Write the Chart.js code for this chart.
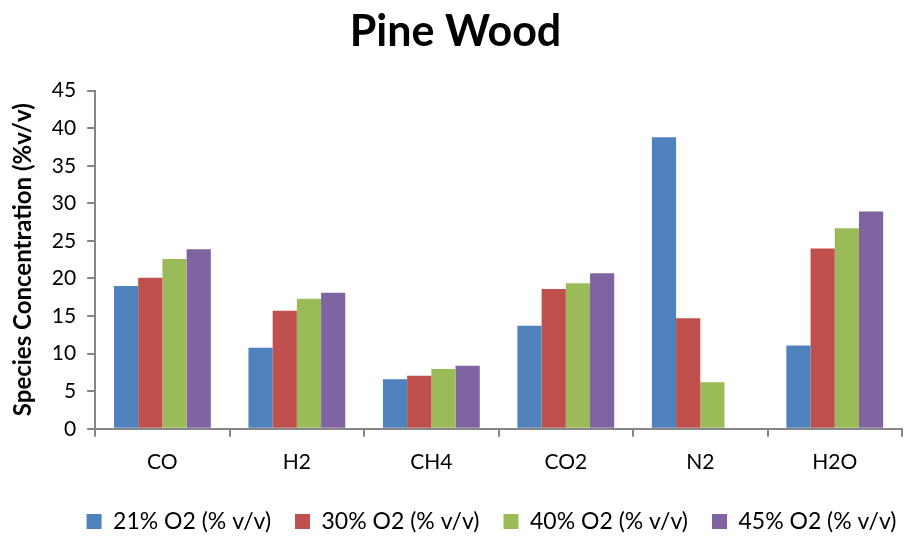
<!DOCTYPE html>
<html>
<head>
<meta charset="utf-8">
<script src="https://cdn.jsdelivr.net/npm/chart.js@4"></script>
<style>
  body { margin: 0; background: #fff; }
  #wrap { width: 910px; height: 536px; }
</style>
</head>
<body>
<div id="wrap"><canvas id="chart"></canvas></div>
<script>
const categories = ["CO", "H2", "CH4", "CO2", "N2", "H2O"];
const seriesNames = ["21% O2 (% v/v)", "30% O2 (% v/v)", "40% O2 (% v/v)", "45% O2 (% v/v)"];
const o2_21 = [19.0, 10.8, 6.6, 13.7, 38.8, 11.1];
const o2_30 = [20.1, 15.7, 7.05, 18.6, 14.7, 24.0];
const o2_40 = [22.6, 17.3, 7.95, 19.35, 6.2, 26.7];
const o2_45 = [23.9, 18.1, 8.4, 20.7, 0, 28.9];
const colors = ["#4F81BD", "#C0504D", "#9BBB59", "#8064A2"];

const font = "Lato, 'Open Sans', sans-serif";
const axisGray = "#868686";

// the legend sits a bit right of centre in the original
const shiftLegend = {
  id: "shiftLegend",
  afterLayout(chart) {
    const lg = chart.legend;
    lg.left += 36;
    lg.right += 36;
  }
};

const ctx = document.getElementById("chart").getContext("2d");
new Chart(ctx, {
  type: "bar",
  data: {
    labels: categories,
    datasets: [o2_21, o2_30, o2_40, o2_45].map((d, i) => ({
      label: seriesNames[i],
      data: d,
      backgroundColor: colors[i],
      borderWidth: 0,
      categoryPercentage: 0.72,
      barPercentage: 1.0
    }))
  },
  plugins: [shiftLegend],
  options: {
    responsive: true,
    maintainAspectRatio: false,
    animation: false,
    layout: { padding: { left: 9, right: 8, top: 4, bottom: -7 } },
    plugins: {
      title: {
        display: true,
        text: "Pine Wood",
        color: "#000",
        font: { family: font, size: 43, weight: "bold" },
        padding: { top: 2, bottom: 33 }
      },
      legend: {
        position: "bottom",
        labels: {
          color: "#000",
          font: { family: font, size: 23 },
          boxWidth: 15,
          boxHeight: 15,
          padding: 24
        }
      },
      tooltip: { enabled: false }
    },
    scales: {
      x: {
        afterFit: s => { s.height -= 2; },
        grid: {
          display: true,
          drawOnChartArea: false,
          color: axisGray,
          tickLength: 8,
          lineWidth: 2,
          offset: true
        },
        border: { color: axisGray, width: 2 },
        ticks: {
          color: "#000",
          font: { family: font, size: 21 },
          padding: 13
        }
      },
      y: {
        min: 0,
        max: 45,
        ticks: {
          stepSize: 5,
          color: "#000",
          font: { family: font, size: 21 },
          padding: 11
        },
        grid: {
          display: true,
          drawOnChartArea: false,
          color: axisGray,
          tickLength: 8,
          lineWidth: 2
        },
        border: { color: axisGray, width: 2 },
        title: {
          display: true,
          text: "Species Concentration (%v/v)",
          color: "#000",
          font: { family: font, size: 24, weight: "bold" },
          padding: { top: 0, bottom: 3 }
        }
      }
    }
  }
});
</script>
</body>
</html>
